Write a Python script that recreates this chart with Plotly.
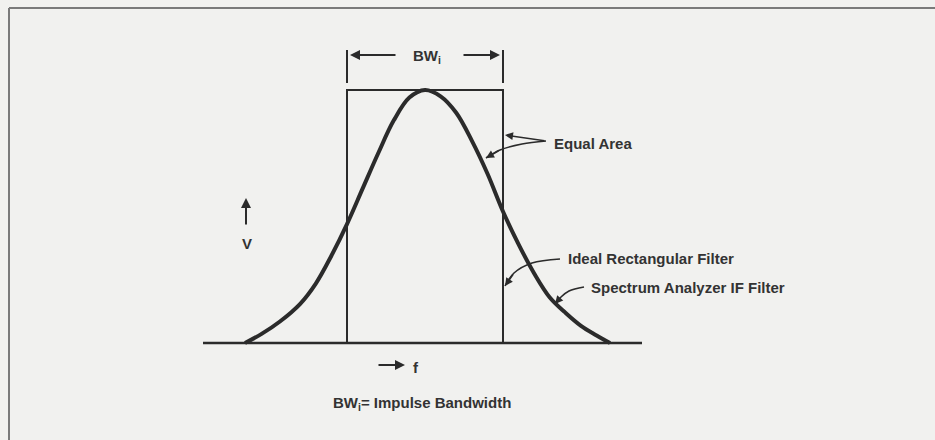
import plotly.graph_objects as go

# ---- data (f normalised to the impulse bandwidth BW_i, V normalised to peak) ----
rect_f = [-0.5, -0.5, 0.5, 0.5]          # ideal rectangular filter
rect_v = [0.0, 1.0, 1.0, 0.0]

# spectrum analyzer IF filter response
curve_f = [-1.154, -1.05, -0.93, -0.8, -0.7, -0.6, -0.5, -0.4, -0.3, -0.2, -0.1, 0.0,
           0.1, 0.2, 0.3, 0.4, 0.5, 0.6, 0.7, 0.8, 0.9, 1.0, 1.1, 1.186]
curve_v = [0.0, 0.035, 0.085, 0.155, 0.235, 0.345, 0.47, 0.61, 0.75, 0.88, 0.97, 1.0,
           0.975, 0.91, 0.80, 0.67, 0.52, 0.39, 0.275, 0.18, 0.12, 0.068, 0.03, 0.0]

baseline_f = [-1.423, 1.391]
baseline_v = [0.0, 0.0]

INK = "#2b2b2b"
TXT = "#333333"
BG = "#f1f1ef"
FONT = "Liberation Sans"


def fx(px):   # horizontal picture position -> f units
    return (px - 425) / 156


def vy(py):   # vertical picture position -> V units
    return (343 - py) / 253


fig = go.Figure()

fig.add_trace(go.Scatter(x=rect_f, y=rect_v, mode="lines",
                         line=dict(color=INK, width=2), hoverinfo="skip"))
fig.add_trace(go.Scatter(x=curve_f, y=curve_v, mode="lines",
                         line=dict(color=INK, width=4, shape="spline", smoothing=1.0),
                         hoverinfo="skip"))
fig.add_trace(go.Scatter(x=baseline_f, y=baseline_v, mode="lines",
                         line=dict(color=INK, width=2.5), hoverinfo="skip"))

# dimension-line ticks for BW_i
for xf in (-0.5, 0.5):
    fig.add_shape(type="line", xref="x", yref="y", x0=xf, x1=xf, y0=vy(83), y1=vy(50),
                  line=dict(color=INK, width=2))


def arrow(tip, tail, width=2):
    fig.add_annotation(x=fx(tip[0]), y=vy(tip[1]), ax=fx(tail[0]), ay=vy(tail[1]),
                       xref="x", yref="y", axref="x", ayref="y", text="", showarrow=True,
                       arrowhead=2, arrowsize=1, arrowwidth=width, arrowcolor=INK)


def leader(pts, width=1.6):
    fig.add_trace(go.Scatter(x=[fx(p[0]) for p in pts], y=[vy(p[1]) for p in pts],
                             mode="lines", hoverinfo="skip",
                             line=dict(color=INK, width=width, shape="spline", smoothing=1)))
    arrow(pts[-1], pts[-2], width)


def label(px, py, txt, anchor="left"):
    fig.add_annotation(x=fx(px), y=vy(py), xref="x", yref="y", text=txt, showarrow=False,
                       xanchor=anchor, yanchor="middle",
                       font=dict(family=FONT, size=15, color=TXT, weight="bold"))


# BW_i dimension arrows
arrow((350, 55), (397, 55))
arrow((500, 55), (462, 55))
label(427, 56, "BW<sub>i</sub>", anchor="center")

# Equal Area
arrow((505, 135), (546, 141), width=1.6)
leader([(546, 141), (522, 144), (500, 150), (486, 158)])
label(552, 143, "Equal Area")

# Ideal Rectangular Filter
leader([(560, 259), (532, 263), (514, 273), (505, 286)])
label(566, 258, "Ideal Rectangular Filter")

# Spectrum Analyzer IF Filter
leader([(584, 287), (569, 291), (561, 297), (555, 304)])
label(589, 287, "Spectrum Analyzer IF Filter")

# V axis arrow and label
arrow((246, 198), (246, 226))
label(247, 243, "V", anchor="center")

# f axis arrow and label
arrow((405, 365), (377, 365))
label(411, 367, "f")

# footnote
label(331, 403, "BW<sub>i</sub>= Impulse Bandwidth")

# page frame (left and top edges)
fig.add_shape(type="line", xref="paper", yref="paper", x0=9/935, x1=9/935,
              y0=0, y1=1 - 8/440, line=dict(color="#7a7a7a", width=2))
fig.add_shape(type="line", xref="paper", yref="paper", x0=9/935, x1=1,
              y0=1 - 8/440, y1=1 - 8/440, line=dict(color="#7a7a7a", width=2))

fig.update_layout(
    width=935, height=440,
    margin=dict(l=0, r=0, t=0, b=0),
    paper_bgcolor=BG, plot_bgcolor=BG,
    showlegend=False,
    xaxis=dict(range=[fx(0), fx(935)], visible=False, fixedrange=True),
    yaxis=dict(range=[vy(440), vy(0)], visible=False, fixedrange=True),
)

fig.write_html("out.html", config={"displayModeBar": False},
               post_script="document.body.style.margin='0';"
                           "document.body.style.background='%s';" % BG)
